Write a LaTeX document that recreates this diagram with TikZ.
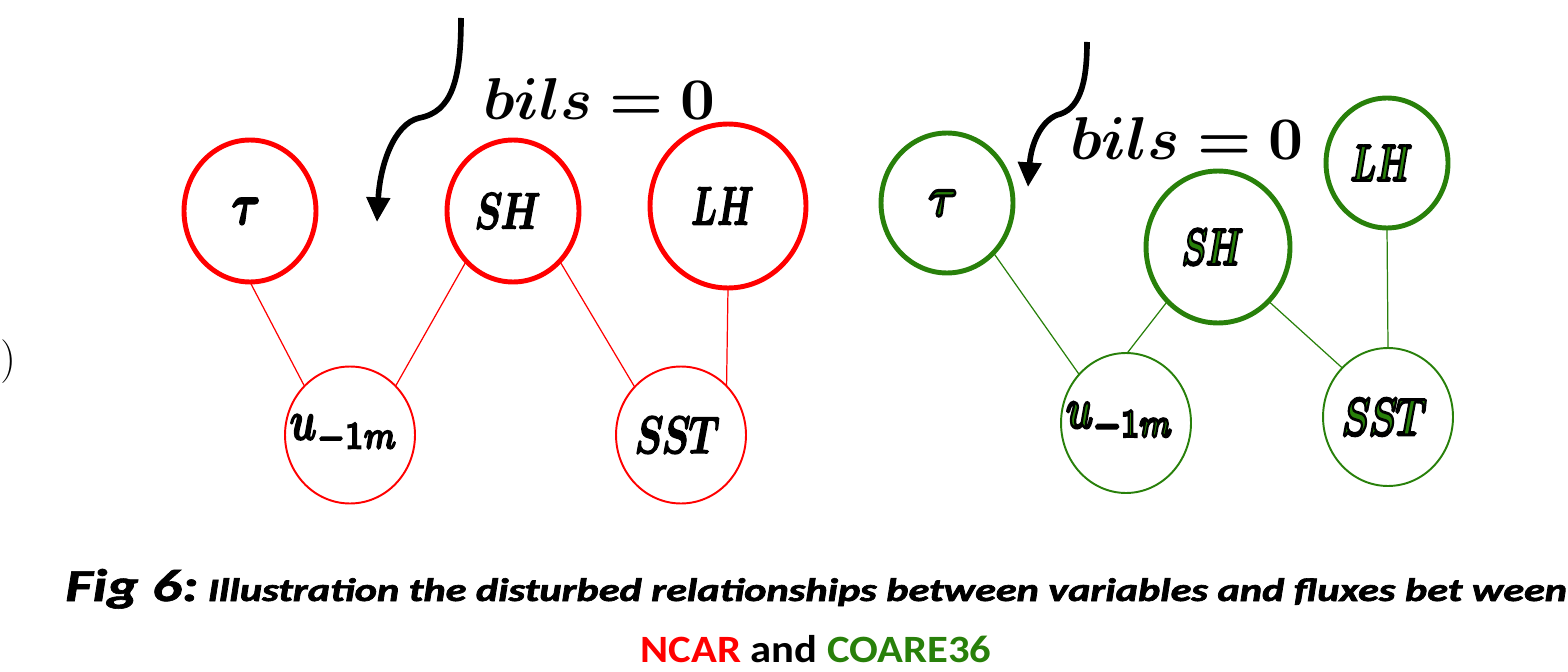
\documentclass[tikz,border=0pt]{standalone}
\usepackage{fontspec}
\usepackage{graphicx}
\newfontfamily\capfont{Carlito}
\usetikzlibrary{shapes.geometric,arrows.meta}
\definecolor{ncarred}{RGB}{255,0,0}
\definecolor{coaregreen}{RGB}{40,128,10}
% bold math italic and bold math symbols, used as text fonts
\newcommand\mib{\fontencoding{OML}\fontfamily{cmm}\fontseries{b}\fontshape{it}\selectfont}
\newcommand\bsy{\fontencoding{OMS}\fontfamily{cmsy}\fontseries{b}\fontshape{n}\selectfont}
% formulas
\newcommand\ftau{{\mib\char"1C}}
\newcommand\fsh{{\mib SH}}
\newcommand\flh{{\mib LH}}
\newcommand\fsst{{\mib SST}}
\newcommand\fwind{{\mib u}\raisebox{-1.6pt}{\fontsize{7pt}{8pt}\selectfont{\bsy\char0}\textbf{1}{\mib m}}}
\newcommand\bilszero{{\mib bils}\hspace{0.28em}\textbf{=}\hspace{0.28em}\textbf{0}}
% variable label: width, height, formula (zero-width box, nudged left)
\newcommand\varlabel[3]{\makebox[0pt]{\resizebox{#1}{#2}{#3}\hspace{0.28cm}}}
% heavier black lettering (filled and stroked)
\newcommand\heavy[2][0.3]{{\special{pdf:literal direct 0 0 0 RG #1 w 2 Tr}#2\special{pdf:literal direct 0 Tr}}}
% outlined green lettering
\newcommand\outlined[1]{{\color{coaregreen}\special{pdf:literal direct 0 0 0 RG 0.55 w 2 Tr}#1\special{pdf:literal direct 0 Tr}}}
\begin{document}
\begin{tikzpicture}[x=0.02cm,y=-0.02cm,
  varnode/.style={ellipse, inner sep=0pt, outer sep=0pt},
  bigred/.style={varnode, draw=ncarred, line width=2.8pt},
  smallred/.style={varnode, draw=ncarred, line width=1.1pt},
  biggreen/.style={varnode, draw=coaregreen, line width=2.8pt},
  smallgreen/.style={varnode, draw=coaregreen, line width=1.1pt},
  redlink/.style={draw=ncarred, line width=0.7pt},
  greenlink/.style={draw=coaregreen, line width=0.7pt},
  flowarrow/.style={line width=3.2pt, -{Triangle[width=13pt,length=14pt]}},
  eqtext/.style={anchor=base west, inner sep=0pt}]
\useasboundingbox (0,0) rectangle (1568,672);

% ---------- NCAR ----------
\node[bigred, minimum width=2.64cm, minimum height=2.84cm] (rtau) at (250,211) {\varlabel{0.46cm}{0.52cm}{\heavy{\ftau}}};
\node[bigred, minimum width=2.64cm, minimum height=2.84cm] (rSH) at (513,211) {\varlabel{1.26cm}{0.70cm}{\heavy{\fsh}}};
\node[bigred, minimum width=3.12cm, minimum height=3.28cm] (rLH) at (728,206) {\varlabel{1.20cm}{0.74cm}{\heavy{\flh}}};
\node[smallred, minimum width=2.60cm, minimum height=2.74cm] (ru) at (350,435) {\varlabel{2.14cm}{0.50cm}{\heavy{\fwind}}};
\node[smallred, minimum width=2.60cm, minimum height=2.74cm] (rSST) at (681,435) {\varlabel{1.58cm}{0.72cm}{\heavy{\fsst}}};

\draw[redlink] (rtau.south) -- (ru.133);
\draw[redlink] (rSH.227) -- (ru.47);
\draw[redlink] (rSH.313) -- (rSST.134);
\draw[redlink] (rLH.south) -- (rSST.47);

\coordinate (rstart) at (461,18);
\coordinate (rkink) at (419,118);
\coordinate (rtip) at (377,222);
\draw[flowarrow] (rstart) .. controls (461,80) and (452,112) .. (rkink) .. controls (394,124) and (380,165) .. (rtip);
\node[eqtext] (req) at (483,120) {\resizebox{4.64cm}{0.82cm}{\bilszero}};

% ---------- COARE36 ----------
\node[biggreen, minimum width=2.64cm, minimum height=2.80cm] (gtau) at (947,203) {\varlabel{0.46cm}{0.50cm}{\outlined{\ftau}}};
\node[biggreen, minimum width=2.88cm, minimum height=3.04cm] (gSH) at (1218,247) {\varlabel{1.18cm}{0.70cm}{\outlined{\fsh}}};
\node[biggreen, minimum width=2.44cm, minimum height=2.60cm] (gLH) at (1387,163) {\varlabel{1.18cm}{0.70cm}{\outlined{\flh}}};
\node[smallgreen, minimum width=2.60cm, minimum height=2.80cm] (gu) at (1126,423) {\varlabel{2.12cm}{0.50cm}{\outlined{\fwind}}};
\node[smallgreen, minimum width=2.60cm, minimum height=2.76cm] (gSST) at (1388,417) {\varlabel{1.58cm}{0.72cm}{\outlined{\fsst}}};

\draw[greenlink] (gtau.313) -- (gu.134);
\draw[greenlink] (gSH.227) -- (gu.89);
\draw[greenlink] (gSH.313) -- (gSST.133);
\draw[greenlink] (gLH.south) -- (gSST.north);

\coordinate (gstart) at (1087,42);
\coordinate (gkink) at (1057,115);
\coordinate (gtip) at (1028,187);
\draw[flowarrow] (gstart) .. controls (1087,85) and (1079,110) .. (gkink) .. controls (1040,122) and (1031,145) .. (gtip);
\node[eqtext] (geq) at (1070,160) {\resizebox{4.66cm}{0.84cm}{\bilszero}};

% ---------- margin and caption ----------
\node[anchor=west, inner sep=0pt] (paren) at (0,362) {\fontsize{30pt}{34pt}\selectfont$)$};

\node[anchor=base west, inner sep=0pt] (cap1) at (65,601)
  {\resizebox{30.04cm}{\height}{\heavy[0.35]{\capfont\bfseries\itshape
   {\fontsize{26pt}{30pt}\selectfont Fig 6:}\fontsize{18.5pt}{22pt}\selectfont\ Illustration the disturbed relationships between variables and fluxes bet ween}}};
\node[anchor=base, inner sep=0pt] (cap2) at (816,662)
  {\resizebox{7.02cm}{\height}{\capfont\bfseries\fontsize{22pt}{26pt}\selectfont
   \textcolor{ncarred}{NCAR} and \textcolor{coaregreen}{COARE36}}};
\end{tikzpicture}
\end{document}
